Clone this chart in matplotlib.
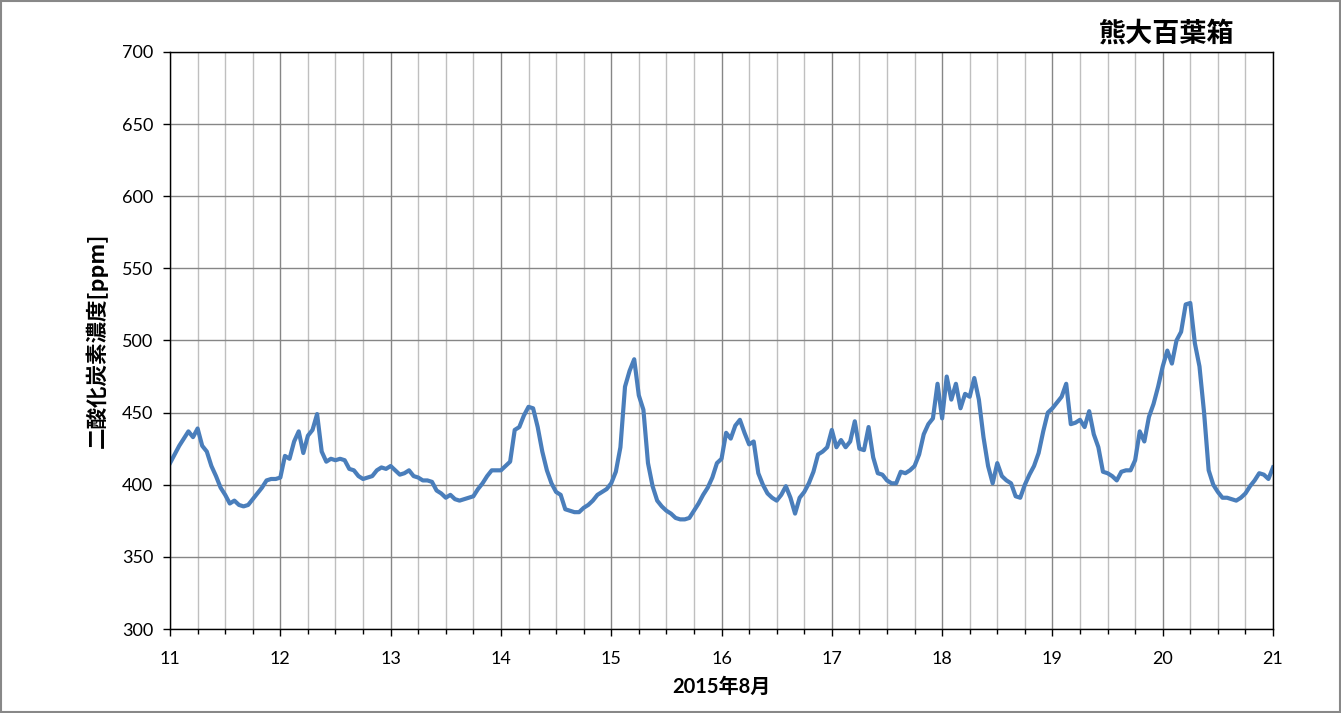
import matplotlib
matplotlib.use("Agg")
import matplotlib.pyplot as plt
from matplotlib.ticker import MultipleLocator
from matplotlib.patches import Rectangle
import numpy as np

# hourly CO2 readings [ppm], 2015-08-11 00:00 .. 2015-08-21 00:00
d11 = [415, 421, 427, 432, 437, 433, 439, 427, 423, 413, 406, 398,
       393, 387, 389, 386, 385, 386, 390, 394, 398, 403, 404, 404]
d12 = [405, 420, 418, 430, 437, 422, 434, 438, 449, 423, 416, 418,
       417, 418, 417, 411, 410, 406, 404, 405, 406, 410, 412, 411]
d13 = [413, 410, 407, 408, 410, 406, 405, 403, 403, 402, 396, 394,
       391, 393, 390, 389, 390, 391, 392, 397, 401, 406, 410, 410]
d14 = [410, 413, 416, 438, 440, 448, 454, 453, 440, 423, 410, 401,
       395, 393, 383, 382, 381, 381, 384, 386, 389, 393, 395, 397]
d15 = [401, 409, 426, 468, 479, 487, 462, 452, 415, 399, 389, 385,
       382, 380, 377, 376, 376, 377, 382, 387, 393, 398, 405, 415]
d16 = [418, 436, 432, 441, 445, 436, 428, 430, 408, 400, 394, 391,
       389, 393, 399, 391, 380, 391, 395, 401, 409, 421, 423, 426]
d17 = [438, 426, 431, 426, 430, 444, 425, 424, 440, 419, 408, 407,
       403, 401, 401, 409, 408, 410, 413, 421, 435, 442, 446, 470]
d18 = [446, 475, 459, 470, 453, 463, 461, 474, 459, 433, 413, 401,
       415, 406, 403, 401, 392, 391, 400, 407, 413, 422, 437, 450]
d19 = [453, 457, 461, 470, 442, 443, 445, 440, 451, 435, 426, 409,
       408, 406, 403, 409, 410, 410, 417, 437, 430, 447, 456, 468]
d20 = [482, 493, 484, 500, 506, 525, 526, 498, 482, 450, 410, 400,
       395, 391, 391, 390, 389, 391, 394, 399, 403, 408, 407, 404]
d21 = [412]

co2 = np.array(d11 + d12 + d13 + d14 + d15 + d16 + d17 + d18 + d19 + d20 + d21)
day = 11 + np.arange(len(co2)) / 24.0

xticks = list(range(11, 22))
yticks = list(range(300, 701, 50))

TICK_FONT = ["Lato", "DejaVu Sans"]
CJK_FONT = ["Noto Sans CJK JP", "DejaVu Sans"]

fig = plt.figure(figsize=(13.41, 7.13), dpi=100)
ax = fig.add_axes([0.1268, 0.1178, 0.8225, 0.8093])

ax.plot(day, co2, color="#4A7EBB", linewidth=3.0, solid_joinstyle="round")

ax.set_xlim(11, 21)
ax.set_ylim(300, 700)
ax.set_xticks(xticks)
ax.set_yticks(yticks)
ax.xaxis.set_minor_locator(MultipleLocator(0.25))

ax.grid(which="major", axis="both", color="#868686", linewidth=1.0)
ax.grid(which="minor", axis="x", color="#BFBFBF", linewidth=1.0)
ax.set_axisbelow(True)

for s in ax.spines.values():
    s.set_color("black")
    s.set_linewidth(1.0)

ax.tick_params(axis="x", which="major", direction="out", length=5, width=1, pad=11)
ax.tick_params(axis="x", which="minor", direction="out", length=3.5, width=1)
ax.tick_params(axis="y", which="major", direction="out", length=5, width=1, pad=7)
for lab in ax.get_xticklabels() + ax.get_yticklabels():
    lab.set_family(TICK_FONT)
    lab.set_fontsize(13)

ax.set_ylabel("二酸化炭素濃度[ppm]", family=CJK_FONT, fontsize=15.5, fontweight="bold", labelpad=10)
ax.set_xlabel("2015年8月", family=["Lato", "Noto Sans CJK JP"], fontsize=14.5, fontweight="bold", labelpad=7)

fig.text(0.870, 0.953, "熊大百葉箱", family=CJK_FONT, fontsize=19.5, fontweight="bold",
         ha="center", va="center")

fig.patches.append(Rectangle((0.001, 0.001), 0.998, 0.998, transform=fig.transFigure,
                             fill=False, edgecolor="#888888", linewidth=1.5))

fig.savefig("out.png", dpi=100)
